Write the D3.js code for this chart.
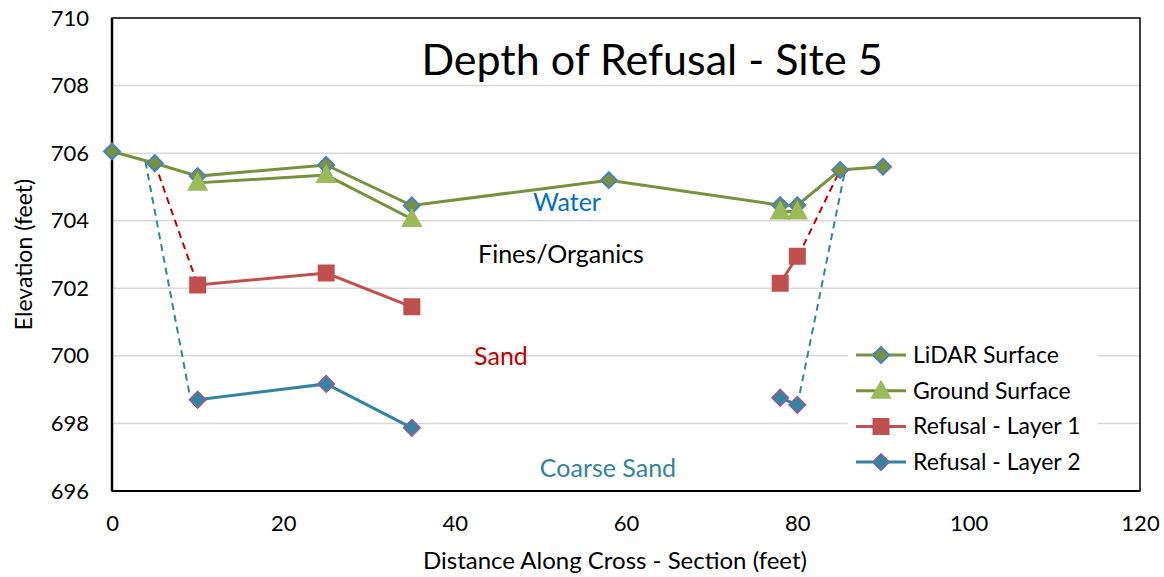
<!DOCTYPE html>
<html><head><meta charset="utf-8">
<script src="https://cdn.jsdelivr.net/npm/d3@7"></script>
<style>body{margin:0;background:#fff;}svg{display:block;font-family:Lato,"Open Sans",sans-serif;}</style>
</head><body><svg id="c" width="1164" height="577"></svg>
<script>
const lidarX = [0, 5, 10, 25, 35, 58, 78, 80, 85, 90];
const lidarY = [706.05, 705.7, 705.32, 705.65, 704.45, 705.2, 704.46, 704.46, 705.5, 705.6];
const groundX = [10, 25, 35, null, 78, 80];
const groundY = [705.12, 705.35, 704.05, null, 704.27, 704.27];
const layer1X = [10, 25, 35, null, 78, 80];
const layer1Y = [702.1, 702.45, 701.45, null, 702.15, 702.95];
const layer2X = [10, 25, 35, null, 78, 80];
const layer2Y = [698.7, 699.17, 697.87, null, 698.76, 698.55];
const dash1 = [[[5, 705.7], [10, 702.1]], [[80.1, 702.95], [85, 705.5]]];
const dash2 = [[[3.9, 705.75], [9.1, 698.8]], [[80.3, 698.9], [85.5, 705.4]]];
const xTicks = [0, 20, 40, 60, 80, 100, 120];
const yTicks = [696, 698, 700, 702, 704, 706, 708, 710];
const labels = [
  {t: "Water", x: 567, y: 704.3, c: "#0070C0"},
  {t: "Fines/Organics", x: 561, y: 702.75, c: "#000000"},
  {t: "Sand", x: 501, y: 699.73, c: "#C00000"},
  {t: "Coarse Sand", x: 608, y: 696.4, c: "#31859C"}
];

const svg = d3.select("#c");
const L = 112, R = 1140, T = 18, B = 491;
const x = d3.scaleLinear().domain([0, 120]).range([L, R]);
const y = d3.scaleLinear().domain([696, 710]).range([B, T]);

// gridlines
svg.append("g").selectAll("line").data(yTicks.filter(d => d > 696 && d < 710)).join("line")
  .attr("x1", L).attr("x2", R).attr("y1", d => y(d)).attr("y2", d => y(d))
  .attr("stroke", "#d9d9d9").attr("stroke-width", 1.5);

// frame
svg.append("rect").attr("x", L).attr("y", T).attr("width", R - L).attr("height", B - T)
  .attr("fill", "none").attr("stroke", "#000").attr("stroke-width", 1.5);
svg.append("line").attr("x1", L).attr("x2", L).attr("y1", T).attr("y2", B).attr("stroke", "#000").attr("stroke-width", 2.5);
svg.append("line").attr("x1", L).attr("x2", R).attr("y1", B).attr("y2", B).attr("stroke", "#000").attr("stroke-width", 2);

// axes
const yAxis = d3.axisLeft(y).tickValues(yTicks).tickSize(0).tickPadding(23);
const gy = svg.append("g").attr("transform", `translate(${L},0)`).call(yAxis);
gy.select(".domain").remove();
gy.selectAll("text").attr("font-size", 22).attr("fill", "#000").attr("font-family", "Lato");
const xAxis = d3.axisBottom(x).tickValues(xTicks).tickSize(0).tickPadding(24);
const gx = svg.append("g").attr("transform", `translate(0,${B})`).call(xAxis);
gx.select(".domain").remove();
gx.selectAll("text").attr("font-size", 22).attr("fill", "#000").attr("font-family", "Lato");

svg.append("text").attr("x", (L + R) / 2 - 11).attr("y", 569).attr("text-anchor", "middle")
  .attr("font-size", 24).attr("fill", "#000").text("Distance Along Cross - Section (feet)");
svg.append("text").attr("transform", `translate(32,${(T + B) / 2}) rotate(-90)`).attr("text-anchor", "middle")
  .attr("font-size", 23).attr("fill", "#000").text("Elevation (feet)");

// title
svg.append("text").attr("x", 652).attr("y", 75).attr("text-anchor", "middle")
  .attr("font-size", 43).attr("fill", "#000").text("Depth of Refusal - Site 5");

// region labels
svg.append("g").selectAll("text").data(labels).join("text")
  .attr("x", d => d.x).attr("y", d => y(d.y)).attr("text-anchor", "middle")
  .attr("font-size", 25).attr("fill", d => d.c).text(d => d.t);

const zip = (xs, ys) => xs.map((v, i) => ({x: v, y: ys[i]}));
const line = d3.line().defined(d => d.x !== null && d.y !== null).x(d => x(d.x)).y(d => y(d.y));

// dashed connectors
const dl = d3.line().x(d => x(d[0])).y(d => y(d[1]));
svg.append("g").selectAll("path").data(dash2).join("path").attr("d", dl)
  .attr("fill", "none").attr("stroke", "#31859C").attr("stroke-width", 2).attr("stroke-dasharray", "7,5");
svg.append("g").selectAll("path").data(dash1).join("path").attr("d", dl)
  .attr("fill", "none").attr("stroke", "#C00000").attr("stroke-width", 2).attr("stroke-dasharray", "7,5");

const series = [
  {name: "LiDAR Surface", data: zip(lidarX, lidarY), line: "#76923C", marker: "diamond", fill: "#76923C", stroke: "#4F81BD"},
  {name: "Ground Surface", data: zip(groundX, groundY), line: "#76923C", marker: "triangle", fill: "#9BBB59", stroke: "#9BBB59"},
  {name: "Refusal - Layer 1", data: zip(layer1X, layer1Y), line: "#C0504D", marker: "square", fill: "#C0504D", stroke: "#C0504D"},
  {name: "Refusal - Layer 2", data: zip(layer2X, layer2Y), line: "#31859C", marker: "diamond", fill: "#31859C", stroke: "#8064A2"}
];
function markerPath(m) {
  if (m === "diamond") return "M0,-8L8,0L0,8L-8,0Z";
  if (m === "triangle") return "M0,-9L9,7L-9,7Z";
  return "M-7.5,-7.5L7.5,-7.5L7.5,7.5L-7.5,7.5Z";
}
series.forEach(s => {
  svg.append("path").attr("d", line(s.data)).attr("fill", "none").attr("stroke", s.line).attr("stroke-width", 3);
});
series.forEach(s => {
  svg.append("g").selectAll("path").data(s.data.filter(d => d.x !== null)).join("path")
    .attr("transform", d => `translate(${x(d.x)},${y(d.y)})`)
    .attr("d", markerPath(s.marker)).attr("fill", s.fill).attr("stroke", s.stroke).attr("stroke-width", 2);
});

// legend
const lg = svg.append("g").attr("transform", "translate(848,336)");
lg.append("rect").attr("width", 250).attr("height", 145).attr("fill", "#fff");
series.forEach((s, i) => {
  const yy = 19 + i * 35.7;
  lg.append("line").attr("x1", 8).attr("x2", 58).attr("y1", yy).attr("y2", yy).attr("stroke", s.line).attr("stroke-width", 3);
  lg.append("path").attr("transform", `translate(33,${yy})`).attr("d", markerPath(s.marker))
    .attr("fill", s.fill).attr("stroke", s.stroke).attr("stroke-width", 2);
  lg.append("text").attr("x", 65).attr("y", yy + 8).attr("font-size", 23).attr("fill", "#000").text(s.name);
});
</script></body></html>
